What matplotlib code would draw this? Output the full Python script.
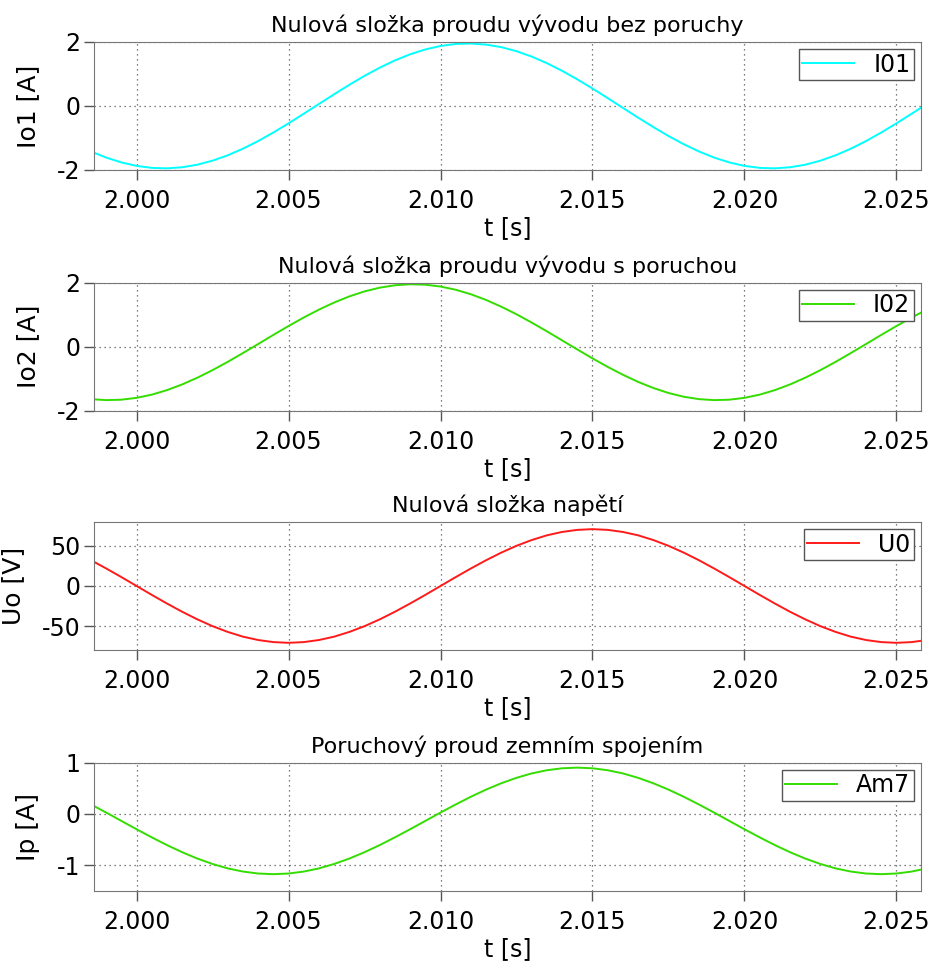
import numpy as np
import matplotlib
matplotlib.use('Agg')
import matplotlib.pyplot as plt
from matplotlib.ticker import FormatStrFormatter

plt.rcParams['font.family'] = ['DejaVu Sans']
plt.rcParams['axes.unicode_minus'] = False

# time samples (s)
t = [1.9980, 1.9985, 1.9990, 1.9995, 2.0000, 2.0005, 2.0010, 2.0015, 2.0020, 2.0025,
     2.0030, 2.0035, 2.0040, 2.0045, 2.0050, 2.0055, 2.0060, 2.0065, 2.0070, 2.0075,
     2.0080, 2.0085, 2.0090, 2.0095, 2.0100, 2.0105, 2.0110, 2.0115, 2.0120, 2.0125,
     2.0130, 2.0135, 2.0140, 2.0145, 2.0150, 2.0155, 2.0160, 2.0165, 2.0170, 2.0175,
     2.0180, 2.0185, 2.0190, 2.0195, 2.0200, 2.0205, 2.0210, 2.0215, 2.0220, 2.0225,
     2.0230, 2.0235, 2.0240, 2.0245, 2.0250, 2.0255, 2.0260]

# zero-sequence current, healthy feeder (A)
i01 = [-1.195, -1.422, -1.613, -1.764, -1.873, -1.935, -1.949, -1.915, -1.835, -1.709,
       -1.541, -1.335, -1.096, -0.830, -0.544, -0.244, 0.061, 0.365, 0.660, 0.940,
       1.195, 1.422, 1.613, 1.764, 1.873, 1.935, 1.949, 1.915, 1.835, 1.709,
       1.541, 1.335, 1.096, 0.830, 0.544, 0.244, -0.061, -0.365, -0.660, -0.940,
       -1.195, -1.422, -1.613, -1.764, -1.873, -1.935, -1.949, -1.915, -1.835, -1.709,
       -1.541, -1.335, -1.096, -0.830, -0.544, -0.244, 0.061]

# zero-sequence current, faulted feeder (A)
i02 = [-1.563, -1.638, -1.669, -1.656, -1.598, -1.498, -1.357, -1.179, -0.969, -0.732,
       -0.473, -0.199, 0.083, 0.367, 0.645, 0.911, 1.157, 1.379, 1.570, 1.726,
       1.843, 1.918, 1.949, 1.936, 1.878, 1.778, 1.637, 1.459, 1.249, 1.012,
       0.753, 0.479, 0.197, -0.087, -0.365, -0.631, -0.877, -1.099, -1.290, -1.446,
       -1.563, -1.638, -1.669, -1.656, -1.598, -1.498, -1.357, -1.179, -0.969, -0.732,
       -0.473, -0.199, 0.083, 0.367, 0.645, 0.911, 1.157]

# zero-sequence voltage (V)
u0 = [41.7, 32.2, 21.9, 11.1, 0.0, -11.1, -21.9, -32.2, -41.7, -50.2,
      -57.4, -63.3, -67.5, -70.1, -71.0, -70.1, -67.5, -63.3, -57.4, -50.2,
      -41.7, -32.2, -21.9, -11.1, 0.0, 11.1, 21.9, 32.2, 41.7, 50.2,
      57.4, 63.3, 67.5, 70.1, 71.0, 70.1, 67.5, 63.3, 57.4, 50.2,
      41.7, 32.2, 21.9, 11.1, 0.0, -11.1, -21.9, -32.2, -41.7, -50.2,
      -57.4, -63.3, -67.5, -70.1, -71.0, -70.1, -67.5]

# earth fault current (A)
ip = [0.334, 0.183, 0.025, -0.138, -0.301, -0.459, -0.610, -0.749, -0.873, -0.979,
      -1.065, -1.127, -1.165, -1.178, -1.165, -1.127, -1.065, -0.979, -0.873, -0.749,
      -0.610, -0.459, -0.301, -0.138, 0.025, 0.183, 0.334, 0.473, 0.597, 0.703,
      0.789, 0.851, 0.889, 0.902, 0.889, 0.851, 0.789, 0.703, 0.597, 0.473,
      0.334, 0.183, 0.025, -0.138, -0.301, -0.459, -0.610, -0.749, -0.873, -0.979,
      -1.065, -1.127, -1.165, -1.178, -1.165, -1.127, -1.065]

panels = [
    ('Nulová složka proudu vývodu bez poruchy', 'Io1 [A]', i01, 'I01', '#00ffff', (-2, 2), [-2, 0, 2]),
    ('Nulová složka proudu vývodu s poruchou', 'Io2 [A]', i02, 'I02', '#33dd00', (-2, 2), [-2, 0, 2]),
    ('Nulová složka napětí', 'Uo [V]', u0, 'U0', '#ff1a1a', (-80, 80), [-50, 0, 50]),
    ('Poruchový proud zemním spojením', 'Ip [A]', ip, 'Am7', '#33dd00', (-1.5, 1), [-1, 0, 1]),
]

fig = plt.figure(figsize=(9.31, 9.63), dpi=100)
bottoms = [0.8235, 0.5735, 0.325, 0.0751]
xticks = [2.000, 2.005, 2.010, 2.015, 2.020, 2.025]

for (title, ylab, y, name, col, ylim, yt), b in zip(panels, bottoms):
    ax = fig.add_axes([0.101, b, 0.888, 0.133])
    ax.plot(t, y, color=col, lw=1.4, label=name)
    ax.set_xlim(1.9986, 2.0258)
    ax.set_ylim(*ylim)
    ax.set_xticks(xticks)
    ax.set_yticks(yt)
    ax.xaxis.set_major_formatter(FormatStrFormatter('%.3f'))
    ax.grid(True, linestyle=(0, (1, 3)), color='#555555', linewidth=0.9)
    for s in ax.spines.values():
        s.set_color('#777777')
    ax.tick_params(direction='out', length=7, width=1, color='#555555', labelsize=17)
    ax.tick_params(axis='x', pad=7)
    ax.tick_params(axis='y', pad=3)
    ax.set_title(title, fontsize=16, pad=7)
    ax.set_xlabel('t [s]', fontsize=17, labelpad=2)
    ax.set_ylabel(ylab, fontsize=18, labelpad=12)
    leg = ax.legend(loc='upper right', fontsize=17, fancybox=False, framealpha=1,
                    edgecolor='#555555', handlelength=2.2, borderaxespad=0.3,
                    borderpad=0.15, handletextpad=0.8)
    leg.get_frame().set_linewidth(1)

fig.savefig('out.png', dpi=100)
